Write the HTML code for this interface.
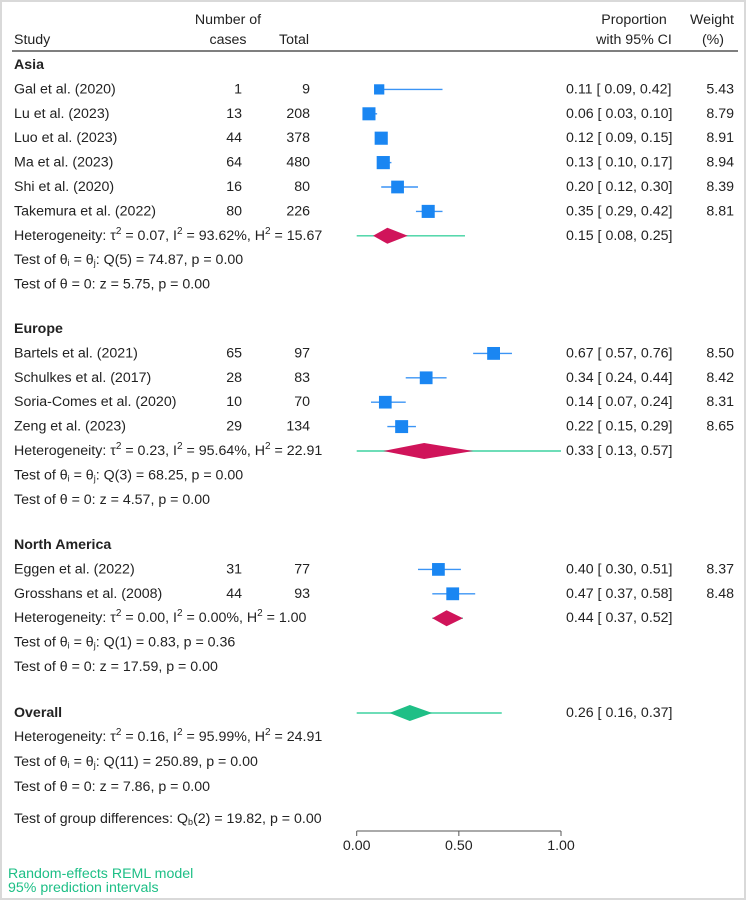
<!DOCTYPE html>
<html><head><meta charset="utf-8"><style>
html,body{margin:0;padding:0;background:#fff;}
svg{display:block;font-family:"Liberation Sans",Arial,sans-serif;font-size:14.2px;}
</style></head><body>
<svg id="chart" width="749" height="902" viewBox="0 0 749 902" xmlns="http://www.w3.org/2000/svg">
<rect x="1" y="1" width="744" height="898" fill="#fff" stroke="#d9d9d9" stroke-width="2"/>
<g fill="#222">
<text x="14" y="40" dominant-baseline="central">Study</text>
<text x="228" y="20" text-anchor="middle" dominant-baseline="central">Number of</text>
<text x="228" y="40" text-anchor="middle" dominant-baseline="central">cases</text>
<text x="294" y="40" text-anchor="middle" dominant-baseline="central">Total</text>
<text x="634" y="20" text-anchor="middle" dominant-baseline="central">Proportion</text>
<text x="634" y="40" text-anchor="middle" dominant-baseline="central">with 95% CI</text>
<text x="712" y="20" text-anchor="middle" dominant-baseline="central">Weight</text>
<text x="713" y="40" text-anchor="middle" dominant-baseline="central">(%)</text>
</g>
<line x1="12" y1="51" x2="738" y2="51" stroke="#333" stroke-width="1.2"/>
<g id="rows"></g>
<g id="marks"></g>
<g id="axis"></g>
<g fill="#1dbf86">
<text x="8" y="874" dominant-baseline="central">Random-effects REML model</text>
<text x="8" y="888" dominant-baseline="central">95% prediction intervals</text>
</g>
</svg>
<script>
const studyNames=["Gal et al. (2020)","Lu et al. (2023)","Luo et al. (2023)","Ma et al. (2023)","Shi et al. (2020)","Takemura et al. (2022)","Bartels et al. (2021)","Schulkes et al. (2017)","Soria-Comes et al. (2020)","Zeng et al. (2023)","Eggen et al. (2022)","Grosshans et al. (2008)"];
const studyGroup=[0,0,0,0,0,0,1,1,1,1,2,2];
const studyCases=[1,13,44,64,16,80,65,28,10,29,31,44];
const studyTotal=[9,208,378,480,80,226,97,83,70,134,77,93];
const studyEst=[0.11,0.06,0.12,0.13,0.20,0.35,0.67,0.34,0.14,0.22,0.40,0.47];
const studyLo=[0.09,0.03,0.09,0.10,0.12,0.29,0.57,0.24,0.07,0.15,0.30,0.37];
const studyHi=[0.42,0.10,0.15,0.17,0.30,0.42,0.76,0.44,0.24,0.29,0.51,0.58];
const studyWeight=[5.43,8.79,8.91,8.94,8.39,8.81,8.50,8.42,8.31,8.65,8.37,8.48];
const groupNames=["Asia","Europe","North America"];
const groupEst=[0.15,0.33,0.44];
const groupLo=[0.08,0.13,0.37];
const groupHi=[0.25,0.57,0.52];
const groupPiLo=[0.00,0.00,0.37];
const groupPiHi=[0.53,1.00,0.52];
const groupTau2=["0.07","0.23","0.00"];
const groupI2=["93.62%","95.64%","0.00%"];
const groupH2=["15.67","22.91","1.00"];
const groupQdf=[5,3,1];
const groupQ=["74.87","68.25","0.83"];
const groupQp=["0.00","0.00","0.36"];
const groupZ=["5.75","4.57","17.59"];
const overallEst=[0.26];
const overallLo=[0.16];
const overallHi=[0.37];
const overallPi=[0.00,0.71];
const tickValues=[0,0.5,1];
const tickLabels=["0.00","0.50","1.00"];

const X0=356.7,X1=561;
const xs=v=>X0+(X1-X0)*v;
const NS="http://www.w3.org/2000/svg";
const rowsG=document.getElementById('rows');
const marksG=document.getElementById('marks');
const axisG=document.getElementById('axis');
const f2=v=>v.toFixed(2);
function mk(tag,attrs,parent){const e=document.createElementNS(NS,tag);for(const k in attrs)e.setAttribute(k,attrs[k]);parent.appendChild(e);return e;}
function txt(x,y,s,parent,anchor,bold){const t=mk('text',{x:x,y:y,'dominant-baseline':'central',fill:'#222'},parent);if(anchor)t.setAttribute('text-anchor',anchor);if(bold)t.setAttribute('font-weight','bold');t.innerHTML=s;return t;}
const sup=s=>'<tspan dy="-5" font-size="10">'+s+'</tspan><tspan dy="5">';
function hetText(t,i,h){return 'Heterogeneity: τ'+sup('2')+' = '+t+', I</tspan>'+sup('2')+' = '+i+', H</tspan>'+sup('2')+' = '+h+'</tspan>';}
function qText(df,q,p){return 'Test of θ<tspan dy="3" font-size="9">i</tspan><tspan dy="-3"> = θ</tspan><tspan dy="3" font-size="9">j</tspan><tspan dy="-3">: Q('+df+') = '+q+', p = '+p+'</tspan>';}
function diamond(est,lo,hi,y,color,name){
  const p=mk('polygon',{points:xs(lo)+','+y+' '+xs(est)+','+(y-8)+' '+xs(hi)+','+y+' '+xs(est)+','+(y+8),fill:color},marksG);
  
  
}
function piLine(lo,hi,y,name){
  const l=mk('line',{x1:xs(lo),x2:xs(hi),y1:y,y2:y,stroke:'#3fd2a0','stroke-width':1.4},marksG);
  
  
}
const groupHeadY=[65,329,545];
const step=24.4;
for(let g=0;g<3;g++){
  let y=groupHeadY[g];
  const h=txt(14,y,groupNames[g],rowsG,null,true);
  
  
  let k=0;
  for(let i=0;i<studyNames.length;i++){
    if(studyGroup[i]!==g)continue;
    k++;const yy=y+step*k;
    const gr=mk('g',{},rowsG);
    
    
    txt(14,yy,studyNames[i],gr);
    txt(242,yy,studyCases[i],gr,'end');
    txt(310,yy,studyTotal[i],gr,'end');
    txt(566,yy,f2(studyEst[i])+' [ '+f2(studyLo[i])+',  '+f2(studyHi[i])+']',gr);
    txt(734,yy,f2(studyWeight[i]),gr,'end');
    const ci=mk('line',{x1:xs(studyLo[i]),x2:xs(studyHi[i]),y1:yy,y2:yy,stroke:'#3b94f5','stroke-width':1.4},marksG);
    
    
    const s=4.4*Math.sqrt(studyWeight[i]);
    const sq=mk('rect',{x:xs(studyEst[i])-s/2,y:yy-s/2,width:s,height:s,fill:'#1a86f2'},marksG);
    
    
  }
  const hy=y+step*(k+1);
  piLine(groupPiLo[g],groupPiHi[g],hy,'prediction-interval');
  diamond(groupEst[g],groupLo[g],groupHi[g],hy,'#d0145a','subgroup-diamond');
  const ht=txt(14,hy,hetText(groupTau2[g],groupI2[g],groupH2[g]),rowsG);
  
  
  txt(566,hy,f2(groupEst[g])+' [ '+f2(groupLo[g])+',  '+f2(groupHi[g])+']',rowsG);
  const qt=txt(14,hy+step,qText(groupQdf[g],groupQ[g],groupQp[g]),rowsG);
  
  
  const zt=txt(14,hy+2*step,'Test of θ = 0: z = '+groupZ[g]+', p = 0.00',rowsG);
  
  
}
const oy=713;
const oh=txt(14,oy,'Overall',rowsG,null,true);


piLine(overallPi[0],overallPi[1],oy,'overall-prediction-interval');
diamond(overallEst[0],overallLo[0],overallHi[0],oy,'#1fbf86','overall-diamond');
txt(566,oy,f2(overallEst[0])+' [ '+f2(overallLo[0])+',  '+f2(overallHi[0])+']',rowsG);
txt(14,737,hetText('0.16','95.99%','24.91'),rowsG);
txt(14,762,qText(11,'250.89','0.00'),rowsG);
txt(14,787,'Test of θ = 0: z = 7.86, p = 0.00',rowsG);
const gd=txt(14,819,'Test of group differences: Q<tspan dy="3" font-size="9">b</tspan><tspan dy="-3">(2) = 19.82, p = 0.00</tspan>',rowsG);


const al=mk('line',{x1:xs(tickValues[0]),x2:xs(tickValues[tickValues.length-1]),y1:831,y2:831,stroke:'#555','stroke-width':1},axisG);


tickValues.forEach((v,i)=>{
  const t=mk('line',{x1:xs(v),x2:xs(v),y1:831,y2:836,stroke:'#555'},axisG);
  
  
  const l=txt(xs(v),846,tickLabels[i],axisG,'middle');
  
  
});
</script>
</body></html>
